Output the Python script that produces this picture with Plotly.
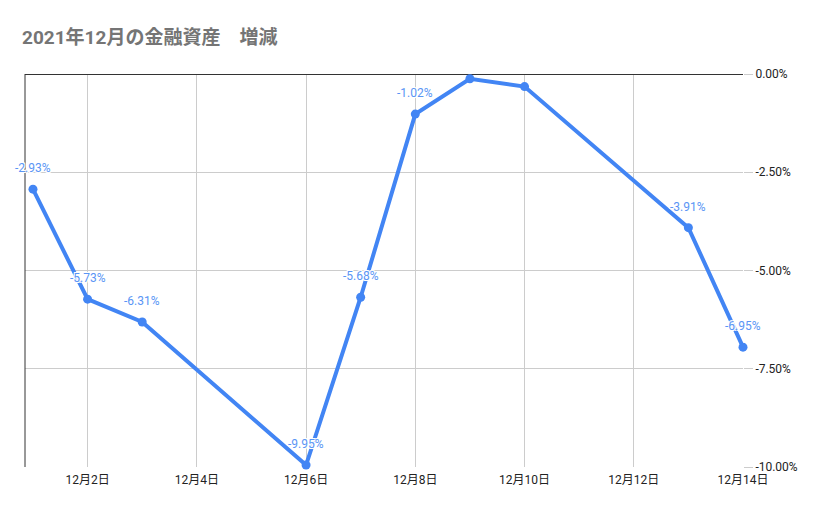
import plotly.graph_objects as go

title = "2021年12月の金融資産　増減"
dates = ["2021-12-01", "2021-12-02", "2021-12-03", "2021-12-06", "2021-12-07",
         "2021-12-08", "2021-12-09", "2021-12-10", "2021-12-13", "2021-12-14"]
values = [-2.93, -5.73, -6.31, -9.95, -5.68, -1.02, -0.12, -0.32, -3.91, -6.95]
labels = ["-2.93%", "-5.73%", "-6.31%", "-9.95%", "-5.68%", "-1.02%", "", "", "-3.91%", "-6.95%"]
xtick_vals = ["2021-12-02", "2021-12-04", "2021-12-06", "2021-12-08",
              "2021-12-10", "2021-12-12", "2021-12-14"]
xtick_text = ["12月2日", "12月4日", "12月6日", "12月8日", "12月10日", "12月12日", "12月14日"]
ytick_vals = [0, -2.5, -5, -7.5, -10]
ytick_text = ["0.00%", "-2.50%", "-5.00%", "-7.50%", "-10.00%"]

blue = "#4285F4"
label_blue = "#5a95f5"
font_fam = "Roboto, 'Noto Sans CJK JP', sans-serif"
halo = "-1px -1px 0 #fff, 1px -1px 0 #fff, -1px 1px 0 #fff, 1px 1px 0 #fff, 0 0 2px #fff"

fig = go.Figure(go.Scatter(
    x=dates, y=values, mode="lines+markers",
    line=dict(color=blue, width=4),
    marker=dict(color=blue, size=9),
    cliponaxis=False, showlegend=False, hoverinfo="x+y",
))

for d, v, t in zip(dates, values, labels):
    if t:
        fig.add_annotation(x=d, y=v, text=t, showarrow=False, yshift=21,
                           font=dict(color=label_blue, size=12, family=font_fam, shadow=halo))

fig.update_layout(
    width=821, height=507,
    margin=dict(l=17, r=86, t=66, b=48),
    paper_bgcolor="white", plot_bgcolor="white",
    font=dict(family=font_fam, size=12, color="#222222"),
    title=dict(text="<b>" + title + "</b>", x=14 / 821, xref="container", xanchor="left",
               y=1 - 29 / 507, yanchor="middle", yref="container",
               font=dict(size=19, color="#757575", family="Roboto, 'Noto Sans CJK JP', sans-serif")),
)

fig.update_xaxes(
    range=["2021-11-30 20:30", "2021-12-14 00:00"],
    tickvals=xtick_vals, ticktext=xtick_text,
    showgrid=True, gridcolor="#cccccc", gridwidth=1,
    showline=False, zeroline=False, ticks="",
    ticklabelstandoff=4,
    tickfont=dict(size=12, color="#222222"),
)

fig.update_yaxes(
    side="right", range=[-10, 0],
    tickvals=ytick_vals, ticktext=ytick_text,
    showgrid=True, gridcolor="#cccccc", gridwidth=1,
    zeroline=True, zerolinecolor="#333333", zerolinewidth=1,
    ticks="outside", ticklen=9, tickcolor="#cccccc",
    showline=False,
    tickfont=dict(size=12, color="#222222"),
)

fig.add_shape(type="line", xref="paper", yref="paper", x0=0, x1=0, y0=0, y1=1,
              line=dict(color="#333333", width=1))

fig.write_html("out.html")
